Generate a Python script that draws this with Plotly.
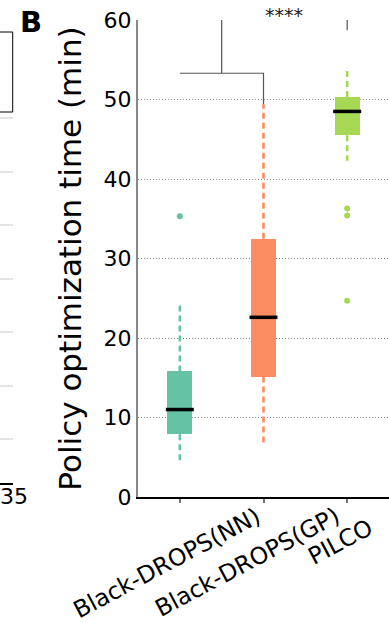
import plotly.graph_objects as go

# ---------------- data ----------------
categories = ["Black-DROPS(NN)", "Black-DROPS(GP)", "PILCO"]
cat_pos = [1, 2, 3]
lower_whisker = [4.2, 6.7, 42.3]
q1 = [7.9, 15.15, 45.5]
median = [11.0, 22.6, 48.5]
q3 = [15.8, 32.5, 50.3]
upper_whisker = [24.2, 49.4, 53.6]
outliers = [[35.3], [], [36.3, 35.4, 24.7]]
yticks = [0, 10, 20, 30, 40, 50, 60]
y_title = "Policy optimization time (min)"

# significance bracket (NN vs GP joined, then vs PILCO)
pair_bracket_y = 53.3
top_bracket_y = 60
pilco_drop_y = 58.7
sig_label = "****"

# left (cut-off) neighbouring panel
left_tick_value = 35
left_tick_label = "35"
panel_letter = "B"

colors = ["#66c2a5", "#fc8d62", "#a6d854"]
FONT = "DejaVu Sans"

W, H = 389, 623
ML, MR, MT, MB = 0, 0, 20, 126
plot_h = H - MT - MB
def py(p):  # pixel -> paper y
    return (H - MB - p) / plot_h

fig = go.Figure()

# boxes
fig.add_trace(go.Bar(
    x=cat_pos, y=[b - a for a, b in zip(q1, q3)], base=q1, width=0.3,
    marker=dict(color=colors, line=dict(width=0)), showlegend=False,
    xaxis="x", yaxis="y"))

# whiskers (dashed)
for i, c in enumerate(cat_pos):
    fig.add_trace(go.Scatter(
        x=[c, c, None, c, c],
        y=[q3[i], upper_whisker[i], None, q1[i], lower_whisker[i]],
        mode="lines", line=dict(color=colors[i], width=2.6, dash="6px,4px"),
        showlegend=False, hoverinfo="skip"))

# medians
fig.add_trace(go.Scatter(
    x=cat_pos, y=median, mode="markers",
    marker=dict(symbol="line-ew", size=20, line=dict(width=3.5, color="black")),
    showlegend=False))

# outliers
for i, c in enumerate(cat_pos):
    if outliers[i]:
        fig.add_trace(go.Scatter(
            x=[c] * len(outliers[i]), y=outliers[i], mode="markers",
            marker=dict(color=colors[i], size=6), showlegend=False))

# significance bracket
mid = (cat_pos[0] + cat_pos[1]) / 2
fig.add_trace(go.Scatter(
    x=[cat_pos[0], cat_pos[1], cat_pos[1], None, mid, mid, None, cat_pos[2], cat_pos[2]],
    y=[pair_bracket_y, pair_bracket_y, upper_whisker[1], None,
       pair_bracket_y, top_bracket_y, None, top_bracket_y, pilco_drop_y],
    mode="lines", line=dict(color="#555555", width=1.2), cliponaxis=False,
    showlegend=False, hoverinfo="skip"))

# invisible anchor trace so the cut-off neighbouring panel's axes are drawn
fig.add_trace(go.Scatter(x=[left_tick_value], y=[1], xaxis="x2", yaxis="y2",
                         mode="markers", marker=dict(opacity=0), showlegend=False,
                         hoverinfo="skip"))

annotations = [
    dict(text=sig_label, x=(mid + cat_pos[2]) / 2, y=top_bracket_y, xref="x", yref="y",
         showarrow=False, yanchor="bottom", yshift=-8,
         font=dict(family=FONT, size=19, color="#222")),
    dict(text="<b>%s</b>" % panel_letter, x=18 / W, y=py(3), xref="paper", yref="paper",
         xanchor="left", yanchor="top", showarrow=False,
         font=dict(family=FONT, size=29, color="black")),
    dict(text=left_tick_label, x=left_tick_value, y=py(483), xref="x2", yref="paper",
         xanchor="center", yanchor="top", xshift=1, yshift=1, showarrow=False,
         font=dict(family=FONT, size=22, color="black")),
]
label_shifts = [(-13, -2), (-16, -2), (-7, -14)]
for i, c in enumerate(cat_pos):
    annotations.append(dict(
        text=categories[i], x=c, y=0, xref="x", yref="paper", showarrow=False,
        textangle=-28, xanchor="center", yanchor="top",
        xshift=label_shifts[i][0], yshift=label_shifts[i][1],
        font=dict(family=FONT, size=23.5, color="black")))

shapes = [
    dict(type="rect", xref="paper", yref="paper", x0=-0.1, x1=12.7 / W,
         y0=py(112), y1=py(32), line=dict(color="black", width=1),
         fillcolor="white", layer="above"),
]

fig.update_layout(
    width=W, height=H, margin=dict(l=ML, r=MR, t=MT, b=MB),
    paper_bgcolor="white", plot_bgcolor="white",
    font=dict(family=FONT, color="black"),
    showlegend=False, bargap=0,
    xaxis=dict(domain=[138 / W, 1], range=[0.5, 3.5], tickvals=cat_pos,
               showticklabels=False, ticks="outside", ticklen=4, tickwidth=1.5,
               tickcolor="#777", showline=True, linecolor="black", linewidth=2,
               showgrid=False, zeroline=False, automargin=False, anchor="y"),
    yaxis=dict(range=[0, 60], tickvals=yticks, ticks="", showline=True,
               linecolor="#888", linewidth=2, showgrid=True, gridcolor="#8a8a8a",
               gridwidth=1, griddash="1px,2px", zeroline=False,
               tickfont=dict(size=22), automargin=False, anchor="x",
               title=dict(text=y_title, font=dict(size=31), standoff=13)),
    xaxis2=dict(domain=[0, 13 / W], range=[34.5, 35], tickvals=[left_tick_value],
                showticklabels=False, showline=True, linecolor="black",
                linewidth=1.5, ticks="", showgrid=False, zeroline=False,
                anchor="y2", automargin=False),
    yaxis2=dict(domain=[py(483), 1], range=[0.178, 8.832], dtick=1, tick0=0,
                showticklabels=False, showgrid=True, gridcolor="#e4e4e4",
                gridwidth=1.5, zeroline=False, showline=False, anchor="x2",
                automargin=False),
    annotations=annotations, shapes=shapes,
)

fig.write_html("out.html", config={"displayModeBar": False},
               post_script="document.body.style.margin='0';")
